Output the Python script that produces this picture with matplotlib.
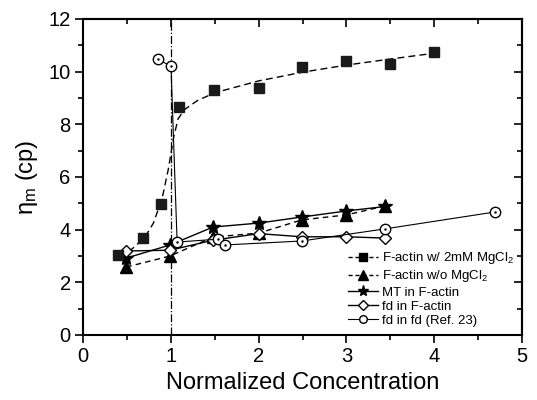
import matplotlib
matplotlib.use("Agg")
import matplotlib.pyplot as plt
from matplotlib.ticker import MultipleLocator

plt.rcParams['font.family'] = ['Liberation Sans', 'DejaVu Sans']
plt.rcParams['mathtext.fontset'] = 'custom'
plt.rcParams['mathtext.rm'] = 'Liberation Sans'
plt.rcParams['mathtext.it'] = 'Liberation Sans'

# F-actin w/ 2mM MgCl2 (points and dashed fit curve)
sq_x = [0.4, 0.68, 0.89, 1.09, 1.49, 2.0, 2.49, 3.0, 3.5, 4.0]
sq_y = [3.04, 3.68, 4.97, 8.65, 9.3, 9.38, 10.18, 10.4, 10.3, 10.75]
fit_x = [0.4, 0.55, 0.7, 0.8, 0.9, 0.97, 1.03, 1.08, 1.15, 1.3, 1.5, 2.0, 2.5, 3.0, 3.5, 4.0]
fit_y = [3.0, 3.25, 3.7, 4.25, 5.2, 6.3, 7.5, 8.2, 8.55, 8.9, 9.2, 9.65, 9.98, 10.25, 10.48, 10.7]

# F-actin w/o MgCl2
tri_x = [0.49, 0.99, 1.48, 2.0, 2.49, 3.0, 3.44]
tri_y = [2.58, 3.0, 3.72, 3.87, 4.37, 4.56, 4.9]

# MT in F-actin
star_x = [0.49, 0.99, 1.48, 2.0, 2.49, 3.0, 3.44]
star_y = [2.92, 3.42, 4.1, 4.25, 4.48, 4.71, 4.88]

# fd in F-actin
dia_x = [0.49, 0.99, 1.48, 2.0, 2.49, 3.0, 3.44]
dia_y = [3.19, 3.22, 3.6, 3.85, 3.73, 3.73, 3.68]

# fd in fd (Ref. 23)
circ_x = [0.85, 1.0, 1.07, 1.54, 1.62, 2.49, 3.44, 4.69]
circ_y = [10.48, 10.2, 3.53, 3.64, 3.42, 3.57, 4.03, 4.67]

fig = plt.figure(figsize=(5.37, 4.0), dpi=100)
ax = fig.add_axes([0.155, 0.1625, 0.817, 0.79])

ax.axvline(1.0, color='black', lw=0.9, ls='-.', zorder=1)

ax.plot(fit_x, fit_y, color='black', lw=1, ls=(0, (5, 3)), zorder=2)
ax.plot(sq_x, sq_y, ls='none', marker='s', ms=7, color='#1a1a1a', zorder=4)
ax.plot(tri_x, tri_y, color='black', lw=1, ls=(0, (4, 3)), marker='^', ms=8, zorder=3)
ax.plot(star_x, star_y, color='black', lw=1, marker='*', ms=10, zorder=3)
ax.plot(dia_x, dia_y, color='black', lw=1, marker='D', ms=6, mfc='white', zorder=3)
ax.plot(circ_x, circ_y, color='black', lw=0.8, marker='o', ms=7.5, mfc='white',
        zorder=3)
ax.plot(circ_x, circ_y, ls='none', marker='.', ms=1.5, color='black', zorder=5)

# legend proxies
h1, = ax.plot([], [], color='black', lw=1, ls=(0, (3, 2)), marker='s', ms=5.5)
h2, = ax.plot([], [], color='black', lw=1, ls=(0, (3, 2)), marker='^', ms=6.5)
h3, = ax.plot([], [], color='black', lw=1, marker='*', ms=8)
h4, = ax.plot([], [], color='black', lw=1, marker='D', ms=5, mfc='white')
h5, = ax.plot([], [], color='black', lw=0.8, marker='o', ms=5.5, mfc='white')
labels = ['F-actin w/ 2mM MgCl$_2$', 'F-actin w/o MgCl$_2$', 'MT in F-actin',
          'fd in F-actin', 'fd in fd (Ref. 23)']
ax.legend([h1, h2, h3, h4, h5], labels, loc='lower right',
          bbox_to_anchor=(1.0, 0.0), frameon=False, fontsize=9.5,
          handlelength=2.3, handletextpad=0.3, labelspacing=0.15,
          borderaxespad=0.2)

ax.set_xlim(0, 5)
ax.set_ylim(0, 12)
ax.xaxis.set_major_locator(MultipleLocator(1))
ax.xaxis.set_minor_locator(MultipleLocator(0.5))
ax.yaxis.set_major_locator(MultipleLocator(2))
ax.yaxis.set_minor_locator(MultipleLocator(1))
ax.tick_params(which='both', direction='out', width=1.2, labelsize=14.5, pad=3)
ax.tick_params(which='major', length=6)
ax.tick_params(which='minor', length=3.5)
for sp in ax.spines.values():
    sp.set_linewidth(1.5)

# inward ticks on top and right
top = ax.secondary_xaxis('top')
top.xaxis.set_major_locator(MultipleLocator(1))
top.xaxis.set_minor_locator(MultipleLocator(0.5))
top.tick_params(which='both', direction='in', width=1.2, labeltop=False)
top.tick_params(which='major', length=6)
top.tick_params(which='minor', length=3.5)
right = ax.secondary_yaxis('right')
right.yaxis.set_major_locator(MultipleLocator(2))
right.yaxis.set_minor_locator(MultipleLocator(1))
right.tick_params(which='both', direction='in', width=1.2, labelright=False)
right.tick_params(which='major', length=6)
right.tick_params(which='minor', length=3.5)
for sec in (top, right):
    for sp in sec.spines.values():
        sp.set_linewidth(1.5)

ax.set_xlabel('Normalized Concentration', fontsize=17, labelpad=4)
ax.set_ylabel(r'$\eta_m$ (cp)', fontsize=17, labelpad=6)

fig.savefig('out.png', dpi=100)
